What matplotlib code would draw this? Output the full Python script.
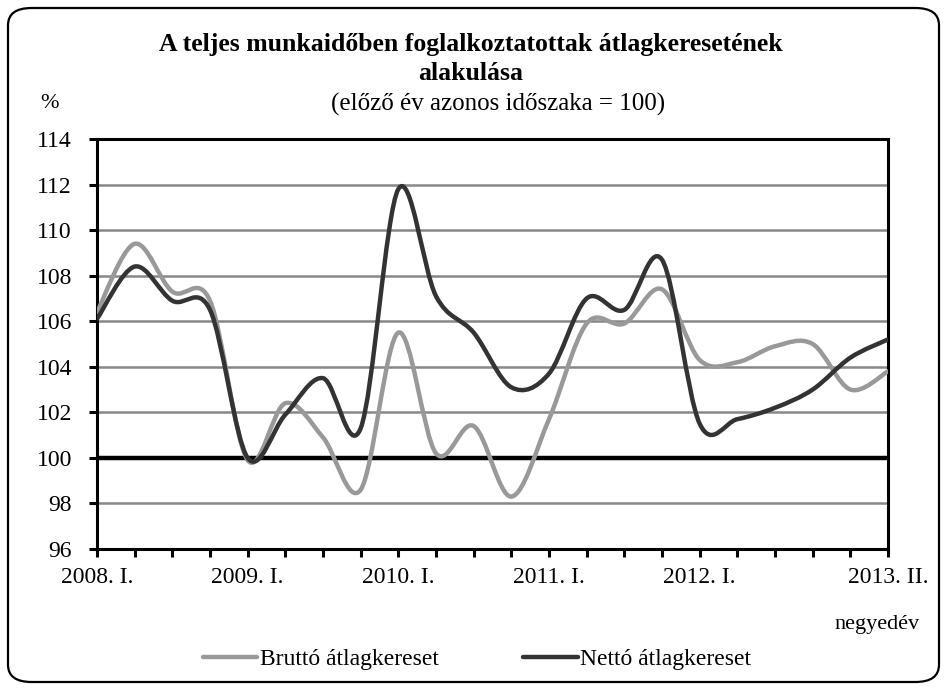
import matplotlib.pyplot as plt
from matplotlib.path import Path
from matplotlib.patches import PathPatch, FancyBboxPatch
from matplotlib.lines import Line2D
import numpy as np

plt.rcParams['font.family'] = ['Liberation Serif', 'DejaVu Serif']

quarters = list(range(22))
tick_text = {0: "2008. I.", 4: "2009. I.", 8: "2010. I.", 12: "2011. I.",
             16: "2012. I.", 21: "2013. II."}
brutto = [106.4, 109.4, 107.3, 106.9, 99.9, 102.4, 100.9, 98.6, 105.5, 100.2, 101.4,
          98.3, 101.7, 105.9, 105.9, 107.4, 104.3, 104.2, 104.9, 105.0, 103.0, 103.8]
netto = [106.1, 108.4, 106.9, 106.5, 100.0, 101.9, 103.5, 101.3, 111.8, 107.1, 105.5,
         103.1, 103.7, 107.0, 106.5, 108.7, 101.5, 101.7, 102.2, 103.0, 104.4, 105.2]


def smooth_path(xs, ys):
    # bezier segments like a spreadsheet "smoothed line"
    p = np.column_stack([xs, ys]).astype(float)
    n = len(p)
    verts = [p[0]]
    codes = [Path.MOVETO]
    for i in range(n - 1):
        prev = p[i - 1] if i > 0 else p[i]
        nxt = p[i + 2] if i + 2 < n else p[i + 1]
        c1 = p[i] + (p[i + 1] - prev) / 6
        c2 = p[i + 1] - (nxt - p[i]) / 6
        verts += [c1, c2, p[i + 1]]
        codes += [Path.CURVE4] * 3
    return Path(verts, codes)


fig = plt.figure(figsize=(9.47, 6.91), dpi=100)
W, H = 947, 691

frame = FancyBboxPatch((8 / W, 9 / H), 931 / W, 674 / H,
                       boxstyle="round,pad=0,rounding_size=0.025",
                       transform=fig.transFigure, fill=False, ec='black', lw=1.6)
fig.patches.append(frame)

ax = fig.add_axes([97 / W, 1 - 549 / H, (888 - 97) / W, (549 - 139) / H])
ax.set_xlim(0, 21)
ax.set_ylim(96, 114)
ax.set_yticks(range(96, 115, 2))
ax.set_xticks(quarters)
ax.set_xticklabels([tick_text.get(q, "") for q in quarters])
for yv in range(98, 114, 2):
    if yv == 100:
        continue
    ax.axhline(yv, color='#888888', lw=1.8, zorder=1)
ax.axhline(100, color='black', lw=3.2, zorder=2)

ax.add_patch(PathPatch(smooth_path(quarters, brutto), fill=False, ec='#999999',
                       lw=3.2, capstyle='round', joinstyle='round', zorder=3))
ax.add_patch(PathPatch(smooth_path(quarters, netto), fill=False, ec='#333333',
                       lw=3.2, capstyle='round', joinstyle='round', zorder=4))

for s in ax.spines.values():
    s.set_linewidth(2.2)
ax.tick_params(axis='both', direction='out', length=6, width=2.2, labelsize=17)
ax.tick_params(axis='x', pad=7)
ax.tick_params(axis='y', pad=12)

fig.text(0.497, 1 - 45 / H, "A teljes munkaidőben foglalkoztatottak átlagkeresetének",
         ha='center', va='center', fontsize=18.5, fontweight='bold')
fig.text(0.497, 1 - 73 / H, "alakulása", ha='center', va='center',
         fontsize=18.5, fontweight='bold')
fig.text(0.526, 1 - 104 / H, "(előző év azonos időszaka = 100)", ha='center',
         va='center', fontsize=18)
fig.text(40 / W, 1 - 103 / H, "%", ha='left', va='center', fontsize=16)
fig.text(920 / W, 1 - 625 / H, "negyedév", ha='right', va='center', fontsize=16)

handles = [Line2D([], [], color='#999999', lw=3.2, solid_capstyle='round'),
           Line2D([], [], color='#333333', lw=3.2, solid_capstyle='round')]
fig.legend(handles, ["Bruttó átlagkereset", "Nettó átlagkereset"],
           loc='center', bbox_to_anchor=(477 / W, 1 - 659 / H), ncol=2,
           frameon=False, fontsize=17, handlelength=2.3, handletextpad=0.1,
           columnspacing=3.6, borderaxespad=0, borderpad=0)

fig.savefig("out.png", dpi=100)
